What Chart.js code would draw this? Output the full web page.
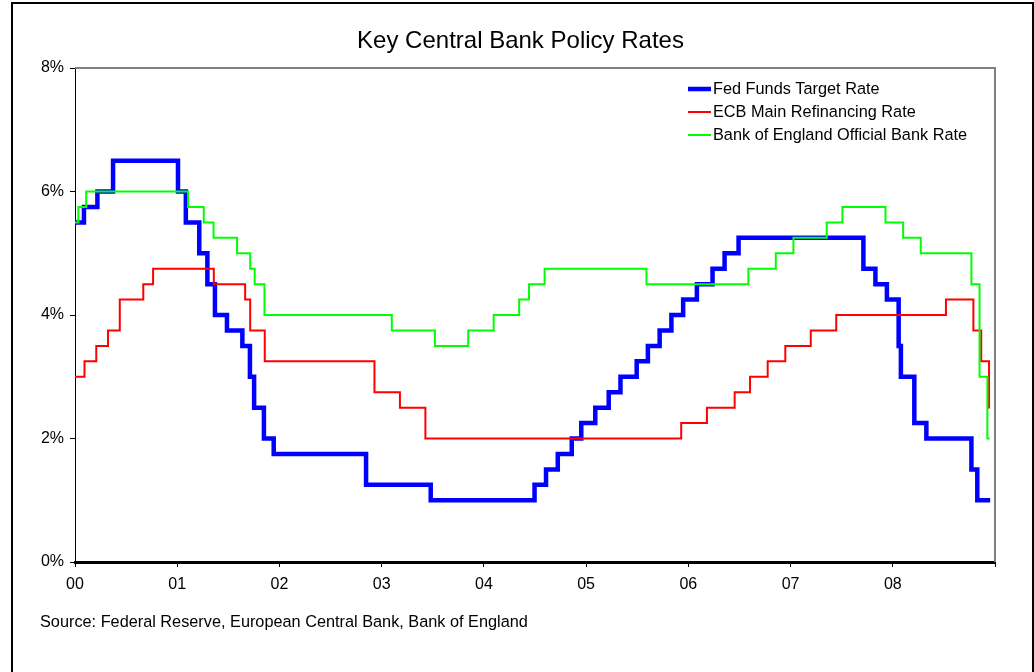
<!DOCTYPE html>
<html>
<head>
<meta charset="utf-8">
<title>Key Central Bank Policy Rates</title>
<script src="https://cdn.jsdelivr.net/npm/chart.js@4.4.0/dist/chart.umd.min.js"></script>
<style>
  html, body { margin: 0; padding: 0; background: #fff; }
  #wrap { position: relative; width: 1034px; height: 672px; overflow: hidden; }
  #frame { position: absolute; left: 11px; top: 2px; width: 1019px; height: 720px;
           border: 2px solid #000; border-bottom: none; }
  #chart { position: absolute; left: 0; top: 0; }
  #title { position: absolute; left: 0; top: 25px; width: 1041px; text-align: center;
           color: #000; font: 24px/30px "Liberation Sans", Arial, sans-serif; }
  #source { position: absolute; left: 40px; top: 612px; color: #000;
            font: 16.3px "Liberation Sans", Arial, sans-serif; }
</style>
</head>
<body>
<div id="wrap">
  <div id="frame"></div>
  <canvas id="chart" width="1034" height="672"></canvas>
  <div id="title">Key Central Bank Policy Rates</div>
  <div id="source">Source: Federal Reserve, European Central Bank, Bank of England</div>
</div>
<script>
// Policy rate changes (date the new rate took effect, rate in %)
const fedDates = ['2000-01-01','2000-02-02','2000-03-21','2000-05-16',
  '2001-01-03','2001-01-31','2001-03-20','2001-04-18','2001-05-15','2001-06-27','2001-08-21','2001-09-17','2001-10-02','2001-11-06','2001-12-11',
  '2002-11-06','2003-06-25',
  '2004-06-30','2004-08-10','2004-09-21','2004-11-10','2004-12-14',
  '2005-02-02','2005-03-22','2005-05-03','2005-06-30','2005-08-09','2005-09-20','2005-11-01','2005-12-13',
  '2006-01-31','2006-03-28','2006-05-10','2006-06-29',
  '2007-09-18','2007-10-31','2007-12-11',
  '2008-01-22','2008-01-30','2008-03-18','2008-04-30','2008-10-08','2008-10-29','2008-12-14'];
const fedRates = [5.5, 5.75, 6, 6.5,
  6, 5.5, 5, 4.5, 4, 3.75, 3.5, 3, 2.5, 2, 1.75,
  1.25, 1,
  1.25, 1.5, 1.75, 2, 2.25,
  2.5, 2.75, 3, 3.25, 3.5, 3.75, 4, 4.25,
  4.5, 4.75, 5, 5.25,
  4.75, 4.5, 4.25,
  3.5, 3, 2.25, 2, 1.5, 1, 1];

const ecbDates = ['2000-01-01','2000-02-04','2000-03-17','2000-04-28','2000-06-09','2000-09-01','2000-10-06',
  '2001-05-11','2001-08-31','2001-09-18','2001-11-09',
  '2002-12-06','2003-03-07','2003-06-06',
  '2005-12-06','2006-03-08','2006-06-15','2006-08-09','2006-10-11','2006-12-13',
  '2007-03-14','2007-06-13',
  '2008-07-09','2008-10-15','2008-11-12','2008-12-10','2008-12-12'];
const ecbRates = [3, 3.25, 3.5, 3.75, 4.25, 4.5, 4.75,
  4.5, 4.25, 3.75, 3.25,
  2.75, 2.5, 2,
  2.25, 2.5, 2.75, 3, 3.25, 3.5,
  3.75, 4,
  4.25, 3.75, 3.25, 2.5, 2.5];

const boeDates = ['2000-01-01','2000-01-13','2000-02-10',
  '2001-02-08','2001-04-05','2001-05-10','2001-08-02','2001-09-18','2001-10-04','2001-11-08',
  '2003-02-06','2003-07-10','2003-11-06',
  '2004-02-05','2004-05-06','2004-06-10','2004-08-05',
  '2005-08-04','2006-08-03','2006-11-09',
  '2007-01-11','2007-05-10','2007-07-05','2007-12-06',
  '2008-02-07','2008-04-10','2008-10-08','2008-11-06','2008-12-04','2008-12-12'];
const boeRates = [5.5, 5.75, 6,
  5.75, 5.5, 5.25, 5, 4.75, 4.5, 4,
  3.75, 3.5, 3.75,
  4, 4.25, 4.5, 4.75,
  4.5, 4.75, 5,
  5.25, 5.5, 5.75, 5.5,
  5.25, 5, 4.5, 3, 2, 2];

const xTickLabels = ['00', '01', '02', '03', '04', '05', '06', '07', '08'];
const yTickLabels = ['0%', '2%', '4%', '6%', '8%'];

// years since 1 Jan 2000
const toYears = (s) => {
  const [y, m, d] = s.split('-').map(Number);
  return (Date.UTC(y, m - 1, d) - Date.UTC(2000, 0, 1)) / (365.25 * 864e5);
};
const toPoints = (dates, rates) => dates.map((d, i) => ({ x: toYears(d), y: rates[i] }));

Chart.defaults.font.family = '"Liberation Sans", Arial, sans-serif';
Chart.defaults.color = '#000';

// grey top/right edge of the plot area
const plotFrame = {
  id: 'plotFrame',
  beforeDatasetsDraw(chart) {
    const { ctx, chartArea: a } = chart;
    ctx.save();
    ctx.strokeStyle = '#808080';
    ctx.lineWidth = 2;
    ctx.beginPath();
    ctx.moveTo(a.left, a.top);
    ctx.lineTo(a.right, a.top);
    ctx.lineTo(a.right, a.bottom);
    ctx.stroke();
    ctx.restore();
  }
};

// legend in the upper right corner of the plot
const insideLegend = {
  id: 'insideLegend',
  afterDraw(chart) {
    const { ctx, chartArea: a } = chart;
    const x0 = a.right - 307;
    ctx.save();
    ctx.font = '16.3px "Liberation Sans", Arial, sans-serif';
    ctx.textBaseline = 'middle';
    ctx.fillStyle = '#000';
    chart.data.datasets.forEach((ds, i) => {
      const y = a.top + 21 + i * 23;
      ctx.strokeStyle = ds.borderColor;
      ctx.lineWidth = ds.borderWidth;
      ctx.beginPath();
      ctx.moveTo(x0, y);
      ctx.lineTo(x0 + 23, y);
      ctx.stroke();
      ctx.fillText(ds.label, x0 + 25, y + 1);
    });
    ctx.restore();
  }
};

new Chart(document.getElementById('chart'), {
  type: 'line',
  data: {
    datasets: [
      { label: 'Fed Funds Target Rate', data: toPoints(fedDates, fedRates),
        borderColor: '#0000ff', borderWidth: 4.5, order: 2 },
      { label: 'ECB Main Refinancing Rate', data: toPoints(ecbDates, ecbRates),
        borderColor: '#ff0000', borderWidth: 2, order: 1 },
      { label: 'Bank of England Official Bank Rate', data: toPoints(boeDates, boeRates),
        borderColor: '#00ff00', borderWidth: 2, order: 0 }
    ]
  },
  options: {
    responsive: false,
    animation: false,
    devicePixelRatio: 1,
    layout: { padding: { left: 30, right: 39, top: 68, bottom: 70 } },
    elements: {
      line: { stepped: true, tension: 0, fill: false },
      point: { radius: 0, hoverRadius: 0 }
    },
    plugins: {
      legend: { display: false },
      tooltip: { enabled: false },
      title: { display: false }
    },
    scales: {
      x: {
        type: 'linear',
        min: 0,
        max: 9,
        afterFit: (s) => { s.height = 40; },
        ticks: {
          stepSize: 1,
          autoSkip: false,
          maxRotation: 0,
          padding: 8,
          color: '#000',
          font: { size: 16 },
          callback: (v) => xTickLabels[v] ?? ''
        },
        grid: { drawOnChartArea: false, drawTicks: true, tickLength: 5, color: '#000' },
        border: { display: true, color: '#000', width: 3 }
      },
      y: {
        min: 0,
        max: 8,
        afterFit: (s) => { s.width = 45; },
        ticks: {
          stepSize: 2,
          padding: 6,
          color: '#000',
          font: { size: 16 },
          callback: (v) => yTickLabels[v / 2] ?? ''
        },
        grid: { drawOnChartArea: false, drawTicks: true, tickLength: 5, color: '#000' },
        border: { display: true, color: '#000', width: 1 }
      }
    }
  },
  plugins: [plotFrame, insideLegend]
});
</script>
</body>
</html>
